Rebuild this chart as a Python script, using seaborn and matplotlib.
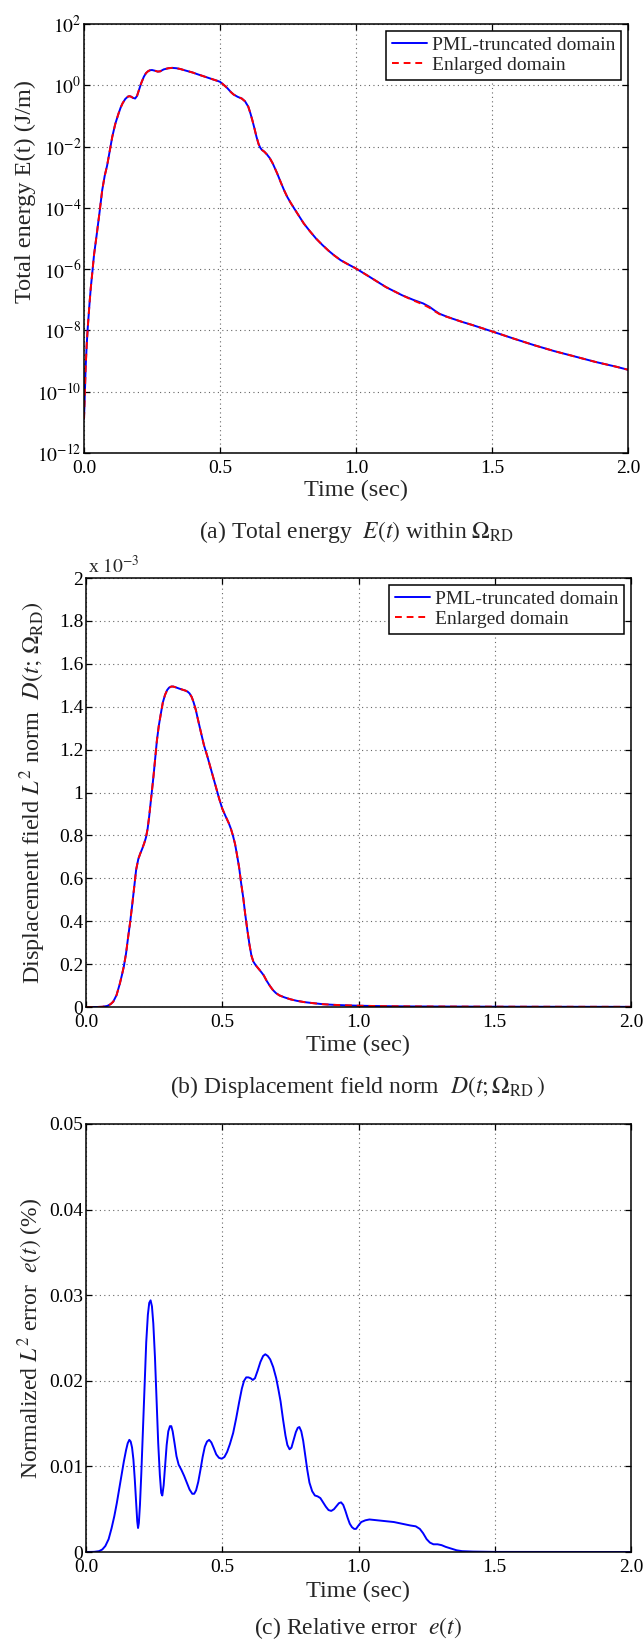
import numpy as np
import pandas as pd
import matplotlib
matplotlib.use("Agg")
import matplotlib.pyplot as plt
import seaborn as sns
from matplotlib.ticker import FixedLocator, FixedFormatter, NullLocator

# ---------------- data ----------------
t_energy = [0.0, 0.003, 0.006, 0.01, 0.014, 0.02, 0.025, 0.029, 0.037, 0.047,
            0.057, 0.067, 0.076, 0.085, 0.095, 0.104, 0.115, 0.127, 0.135, 0.142,
            0.152, 0.162, 0.167, 0.172, 0.18, 0.188, 0.195, 0.202, 0.21, 0.22,
            0.228, 0.236, 0.243, 0.25, 0.26, 0.271, 0.28, 0.293, 0.31, 0.324,
            0.34, 0.354, 0.375, 0.40, 0.42, 0.445, 0.47, 0.49, 0.50, 0.51,
            0.52, 0.528, 0.54, 0.55, 0.565, 0.58, 0.592, 0.604, 0.612, 0.619,
            0.627, 0.634, 0.642, 0.648, 0.654, 0.663, 0.672, 0.683, 0.694, 0.71,
            0.725, 0.736, 0.747, 0.76, 0.773, 0.79, 0.808, 0.83, 0.853, 0.876,
            0.899, 0.92, 0.944, 0.97, 1.0, 1.05, 1.11, 1.17, 1.21, 1.247,
            1.27, 1.29, 1.307, 1.33, 1.353, 1.39, 1.428, 1.5, 1.58, 1.655,
            1.73, 1.806, 1.882, 1.958, 2.0]
energy_pml = [1.3e-11, 8e-11, 6e-10, 3.5e-9, 1.3e-8, 7e-8, 2.5e-7, 5.6e-7, 3e-6, 1.4e-5,
              7e-5, 3.8e-4, 1.1e-3, 2.4e-3, 7.5e-3, 2.1e-2, 5.5e-2, 0.12, 0.19, 0.26,
              0.36, 0.43, 0.44, 0.43, 0.39, 0.37, 0.45, 0.7, 1.15, 1.9,
              2.5, 2.9, 3.1, 3.15, 3.0, 2.8, 2.85, 3.3, 3.6, 3.7,
              3.6, 3.4, 3.0, 2.6, 2.25, 1.9, 1.6, 1.4, 1.3, 1.1,
              0.92, 0.79, 0.6, 0.5, 0.42, 0.37, 0.3, 0.2, 0.12, 0.072,
              0.038, 0.021, 0.012, 0.0092, 0.0078, 0.0068, 0.0056, 0.0042, 0.0028, 1.35e-3,
              6.3e-4, 3.7e-4, 2.3e-4, 1.45e-4, 9.5e-5, 5.5e-5, 3.1e-5, 1.75e-5, 1.0e-5, 6.2e-6,
              4.0e-6, 2.8e-6, 1.95e-6, 1.45e-6, 1.05e-6, 5.6e-7, 2.6e-7, 1.4e-7, 1.0e-7, 7.6e-8,
              5.9e-8, 4.4e-8, 3.5e-8, 2.9e-8, 2.45e-8, 1.9e-8, 1.5e-8, 9.3e-9, 5.4e-9, 3.3e-9,
              2.1e-9, 1.4e-9, 9.3e-10, 6.5e-10, 5.2e-10]
energy_enl = [1.3e-11, 8e-11, 6e-10, 3.5e-9, 1.3e-8, 7e-8, 2.5e-7, 5.6e-7, 3e-6, 1.4e-5,
              7e-5, 3.8e-4, 1.1e-3, 2.4e-3, 7.5e-3, 2.1e-2, 5.5e-2, 0.12, 0.19, 0.26,
              0.36, 0.43, 0.44, 0.43, 0.39, 0.37, 0.45, 0.7, 1.15, 1.9,
              2.5, 2.9, 3.1, 3.15, 3.0, 2.8, 2.85, 3.3, 3.6, 3.7,
              3.6, 3.4, 3.0, 2.6, 2.25, 1.9, 1.6, 1.4, 1.3, 1.1,
              0.92, 0.79, 0.6, 0.5, 0.42, 0.37, 0.3, 0.2, 0.12, 0.072,
              0.038, 0.021, 0.012, 0.0092, 0.0078, 0.0068, 0.0056, 0.0042, 0.0028, 1.35e-3,
              6.3e-4, 3.7e-4, 2.3e-4, 1.45e-4, 9.5e-5, 5.5e-5, 3.1e-5, 1.75e-5, 1.0e-5, 6.2e-6,
              4.0e-6, 2.8e-6, 1.95e-6, 1.45e-6, 1.05e-6, 5.6e-7, 2.6e-7, 1.4e-7, 9.6e-8, 7.0e-8,
              5.5e-8, 4.2e-8, 3.4e-8, 2.85e-8, 2.45e-8, 1.9e-8, 1.5e-8, 9.3e-9, 5.4e-9, 3.3e-9,
              2.1e-9, 1.4e-9, 9.3e-10, 6.5e-10, 5.2e-10]

t_disp = [0.0, 0.04, 0.06, 0.078, 0.09, 0.10, 0.112, 0.124, 0.132, 0.139,
          0.147, 0.154, 0.162, 0.169, 0.177, 0.184, 0.192, 0.199, 0.207, 0.214,
          0.22, 0.226, 0.232, 0.237, 0.243, 0.248, 0.254, 0.26, 0.267, 0.275,
          0.282, 0.29, 0.298, 0.305, 0.313, 0.32, 0.33, 0.343, 0.355, 0.365,
          0.373, 0.38, 0.388, 0.395, 0.403, 0.41, 0.42, 0.433, 0.445, 0.456,
          0.467, 0.478, 0.489, 0.50, 0.512, 0.524, 0.532, 0.539, 0.547, 0.554,
          0.562, 0.569, 0.577, 0.584, 0.592, 0.60, 0.607, 0.614, 0.622, 0.629,
          0.64, 0.652, 0.663, 0.675, 0.686, 0.697, 0.71, 0.728, 0.75, 0.773,
          0.80, 0.833, 0.87, 0.909, 0.95, 1.0, 1.06, 1.12, 1.2, 1.346,
          1.5, 1.648, 1.8, 2.0]
disp_pml = [0.0, 0.0, 0.001, 0.005, 0.013, 0.025, 0.055, 0.108, 0.15, 0.19,
            0.25, 0.32, 0.395, 0.47, 0.56, 0.64, 0.69, 0.715, 0.74, 0.765,
            0.79, 0.83, 0.89, 0.95, 1.02, 1.08, 1.16, 1.24, 1.31, 1.37,
            1.42, 1.455, 1.478, 1.489, 1.494, 1.494, 1.49, 1.484, 1.479, 1.475,
            1.47, 1.462, 1.445, 1.42, 1.385, 1.345, 1.29, 1.22, 1.17, 1.12,
            1.07, 1.02, 0.97, 0.925, 0.89, 0.857, 0.83, 0.80, 0.76, 0.71,
            0.65, 0.58, 0.51, 0.435, 0.36, 0.29, 0.24, 0.212, 0.196, 0.185,
            0.168, 0.148, 0.122, 0.098, 0.079, 0.065, 0.054, 0.045, 0.036, 0.029,
            0.023, 0.018, 0.013, 0.010, 0.008, 0.006, 0.0045, 0.0035, 0.0027, 0.002,
            0.0015, 0.0012, 0.001, 0.0008]
disp_enl = list(disp_pml)

t_err = [0.0, 0.03, 0.048, 0.06, 0.071, 0.083, 0.094, 0.104, 0.113, 0.122,
         0.131, 0.139, 0.147, 0.153, 0.159, 0.164, 0.169, 0.174, 0.179, 0.184,
         0.188, 0.191, 0.194, 0.198, 0.203, 0.209, 0.215, 0.221, 0.227, 0.232,
         0.237, 0.242, 0.247, 0.253, 0.259, 0.265, 0.271, 0.276, 0.28, 0.285,
         0.29, 0.296, 0.302, 0.308, 0.313, 0.318, 0.325, 0.332, 0.34, 0.35,
         0.36, 0.37, 0.38, 0.39, 0.397, 0.404, 0.412, 0.42, 0.428, 0.436,
         0.444, 0.452, 0.46, 0.468, 0.478, 0.488, 0.498, 0.508, 0.518, 0.528,
         0.54, 0.551, 0.562, 0.572, 0.58, 0.588, 0.596, 0.604, 0.612, 0.62,
         0.63, 0.64, 0.65, 0.658, 0.667, 0.676, 0.687, 0.698, 0.706, 0.714,
         0.723, 0.732, 0.739, 0.747, 0.754, 0.762, 0.77, 0.777, 0.783, 0.79,
         0.797, 0.804, 0.812, 0.82, 0.83, 0.84, 0.85, 0.86, 0.87, 0.88,
         0.89, 0.9, 0.91, 0.92, 0.928, 0.936, 0.944, 0.952, 0.96, 0.968,
         0.976, 0.984, 0.991, 1.0, 1.01, 1.025, 1.04, 1.07, 1.1, 1.13,
         1.16, 1.19, 1.21, 1.225, 1.237, 1.25, 1.262, 1.275, 1.29, 1.305,
         1.32, 1.34, 1.36, 1.38, 1.42, 1.5, 2.0]
err_pct = [0.0, 0.00002, 0.0001, 0.0003, 0.0007, 0.0015, 0.0028, 0.0042, 0.0057, 0.0074,
           0.0091, 0.0106, 0.0119, 0.0127, 0.0131, 0.0129, 0.0122, 0.0108, 0.0085, 0.0057,
           0.0036, 0.0028, 0.0034, 0.0055, 0.0092, 0.0143, 0.0197, 0.0245, 0.0277, 0.0291,
           0.0294, 0.0287, 0.0267, 0.0228, 0.0178, 0.0127, 0.0090, 0.0069, 0.0066, 0.0078,
           0.0100, 0.0125, 0.0141, 0.0147, 0.0147, 0.0141, 0.0127, 0.0112, 0.0102, 0.0096,
           0.0089, 0.0081, 0.0073, 0.0068, 0.0068, 0.0072, 0.0082, 0.0096, 0.0111, 0.0123,
           0.0129, 0.0131, 0.0128, 0.0122, 0.0114, 0.0110, 0.0109, 0.0111, 0.0117, 0.0126,
           0.0139, 0.0156, 0.0175, 0.0191, 0.0200, 0.0204, 0.0204, 0.0203, 0.0201, 0.0203,
           0.0212, 0.0222, 0.0229, 0.0231, 0.0229, 0.0225, 0.0216, 0.0203, 0.0190, 0.0176,
           0.0155, 0.0136, 0.0125, 0.0120, 0.0122, 0.0131, 0.0140, 0.0145, 0.0146, 0.0141,
           0.0130, 0.0114, 0.0096, 0.0081, 0.0071, 0.0066, 0.0065, 0.0063, 0.0058, 0.0053,
           0.0049, 0.0048, 0.0050, 0.0054, 0.0057, 0.0058, 0.0055, 0.0048, 0.0040, 0.0033,
           0.0029, 0.0027, 0.0027, 0.0031, 0.0035, 0.0037, 0.0038, 0.0037, 0.0036, 0.0035,
           0.0033, 0.0031, 0.0030, 0.0027, 0.0022, 0.0015, 0.0011, 0.0009, 0.0009, 0.0008,
           0.0006, 0.0004, 0.0002, 0.0001, 0.00005, 0.00001, 0.0]

x_ticks = [0.0, 0.5, 1.0, 1.5, 2.0]
x_tick_labels = ["0.0", "0.5", "1.0", "1.5", "2.0"]
e_ticks = [1e-12, 1e-10, 1e-8, 1e-6, 1e-4, 1e-2, 1e0, 1e2]
e_tick_labels = [r"$10^{-12}$", r"$10^{-10}$", r"$10^{-8}$", r"$10^{-6}$",
                 r"$10^{-4}$", r"$10^{-2}$", r"$10^{0}$", r"$10^{2}$"]
d_ticks = [0, 0.2, 0.4, 0.6, 0.8, 1.0, 1.2, 1.4, 1.6, 1.8, 2.0]
d_tick_labels = ["0", "0.2", "0.4", "0.6", "0.8", "1", "1.2", "1.4", "1.6", "1.8", "2"]
r_ticks = [0, 0.01, 0.02, 0.03, 0.04, 0.05]
r_tick_labels = ["0", "0.01", "0.02", "0.03", "0.04", "0.05"]

series_names = ["PML-truncated domain", "Enlarged domain"]

# ---------------- style ----------------
sns.set_theme(style="ticks")
plt.rcParams["font.family"] = ["Liberation Serif", "DejaVu Serif"]
plt.rcParams["mathtext.fontset"] = "stix"
plt.rcParams["axes.linewidth"] = 1.1

BLUE = "#0000ff"
RED = "#ff0000"
TICK_FS = 14
LAB_FS = 17.5
LEG_FS = 14
CAP_FS = 17
DASH = (3.5, 2.5)

W, H = 644, 1642
fig = plt.figure(figsize=(W / 100, H / 100), dpi=100)


def add_axes_px(left, top, right, bottom):
    return fig.add_axes([left / W, 1 - bottom / H, (right - left) / W, (bottom - top) / H])


def style_axes(ax, xlab_off):
    ax.set_xlim(0, 2)
    ax.xaxis.set_major_locator(FixedLocator(x_ticks))
    ax.xaxis.set_major_formatter(FixedFormatter(x_tick_labels))
    ax.tick_params(axis="both", which="major", direction="in", length=4, width=0.9,
                   top=True, right=True, labelsize=TICK_FS, colors="black")
    ax.tick_params(axis="y", pad=2)
    ax.tick_params(axis="x", pad=5)
    ax.tick_params(which="minor", length=0)
    ax.grid(True, which="major", linestyle=(0, (1, 3)), color="#666666", linewidth=0.8)
    for s in ax.spines.values():
        s.set_color("black")
        s.set_linewidth(1.1)
    ax.set_xlabel("Time (sec)", fontsize=LAB_FS)
    ax.xaxis.set_label_coords(0.5, xlab_off)
    ax.xaxis.label.set_va("center")


def add_legend(ax):
    leg = ax.legend(loc="upper right", fontsize=LEG_FS, frameon=True, fancybox=False,
                    framealpha=1, edgecolor="black", borderpad=0.3, labelspacing=0.1,
                    handlelength=1.8, handletextpad=0.25, borderaxespad=0.35)
    leg.get_frame().set_linewidth(1.1)
    leg.get_lines()[1].set_dashes(DASH)


# ---------------- panel (a) ----------------
ax1 = add_axes_px(84, 24, 628, 453)
df1 = pd.DataFrame({"t": t_energy, "pml": energy_pml, "enl": energy_enl})
sns.lineplot(data=df1, x="t", y="pml", ax=ax1, color=BLUE, lw=1.4, label=series_names[0],
             estimator=None, sort=False)
sns.lineplot(data=df1, x="t", y="enl", ax=ax1, color=RED, lw=1.4, label=series_names[1],
             estimator=None, sort=False, linestyle="--")
ax1.lines[1].set_dashes(DASH)
ax1.set_yscale("log")
ax1.set_ylim(1e-12, 1e2)
ax1.yaxis.set_major_locator(FixedLocator(e_ticks))
ax1.yaxis.set_major_formatter(FixedFormatter(e_tick_labels))
ax1.yaxis.set_minor_locator(NullLocator())
style_axes(ax1, -37 / 429)
ax1.set_ylabel("Total energy E(t) (J/m)", fontsize=LAB_FS)
ax1.yaxis.set_label_coords(-0.108, 0.61)
ax1.yaxis.label.set_va("center")
add_legend(ax1)

# ---------------- panel (b) ----------------
ax2 = add_axes_px(86, 578, 631, 1007)
df2 = pd.DataFrame({"t": t_disp, "pml": disp_pml, "enl": disp_enl})
sns.lineplot(data=df2, x="t", y="pml", ax=ax2, color=BLUE, lw=1.4, label=series_names[0],
             estimator=None, sort=False)
sns.lineplot(data=df2, x="t", y="enl", ax=ax2, color=RED, lw=1.4, label=series_names[1],
             estimator=None, sort=False, linestyle="--")
ax2.lines[1].set_dashes(DASH)
ax2.set_ylim(0, 2)
ax2.yaxis.set_major_locator(FixedLocator(d_ticks))
ax2.yaxis.set_major_formatter(FixedFormatter(d_tick_labels))
style_axes(ax2, -38 / 429)
ax2.set_ylabel(r"Displacement field $L^2$ norm  $D(t;\,\Omega_{\mathrm{RD}})$", fontsize=LAB_FS)
ax2.yaxis.set_label_coords(-0.098, 0.5)
ax2.yaxis.label.set_va("center")
ax2.text(0.004, 1.028, r"x $10^{-3}$", transform=ax2.transAxes, fontsize=TICK_FS,
         ha="left", va="center")
add_legend(ax2)

# ---------------- panel (c) ----------------
ax3 = add_axes_px(86, 1124, 631, 1552)
df3 = pd.DataFrame({"t": t_err, "err": err_pct})
sns.lineplot(data=df3, x="t", y="err", ax=ax3, color=BLUE, lw=1.4, estimator=None, sort=False)
ax3.set_ylim(0, 0.05)
ax3.yaxis.set_major_locator(FixedLocator(r_ticks))
ax3.yaxis.set_major_formatter(FixedFormatter(r_tick_labels))
style_axes(ax3, -39 / 428)
ax3.set_ylabel(r"Normalized $L^2$ error  $e(t)$ (%)", fontsize=17)
ax3.yaxis.set_label_coords(-0.101, 0.5)
ax3.yaxis.label.set_va("center")

# ---------------- captions ----------------
fig.text(357 / W, 1 - 532 / H, r"(a) Total energy  $E(t)$ within $\Omega_{\mathrm{RD}}$",
         ha="center", va="center", fontsize=CAP_FS)
fig.text(358 / W, 1 - 1087 / H, r"(b) Displacement field norm  $D(t;\Omega_{\mathrm{RD}}\,)$",
         ha="center", va="center", fontsize=CAP_FS)
fig.text(358 / W, 1 - 1628 / H, r"(c) Relative error  $e(t)$",
         ha="center", va="center", fontsize=CAP_FS)

fig.savefig("out.png", dpi=100, facecolor="white")
